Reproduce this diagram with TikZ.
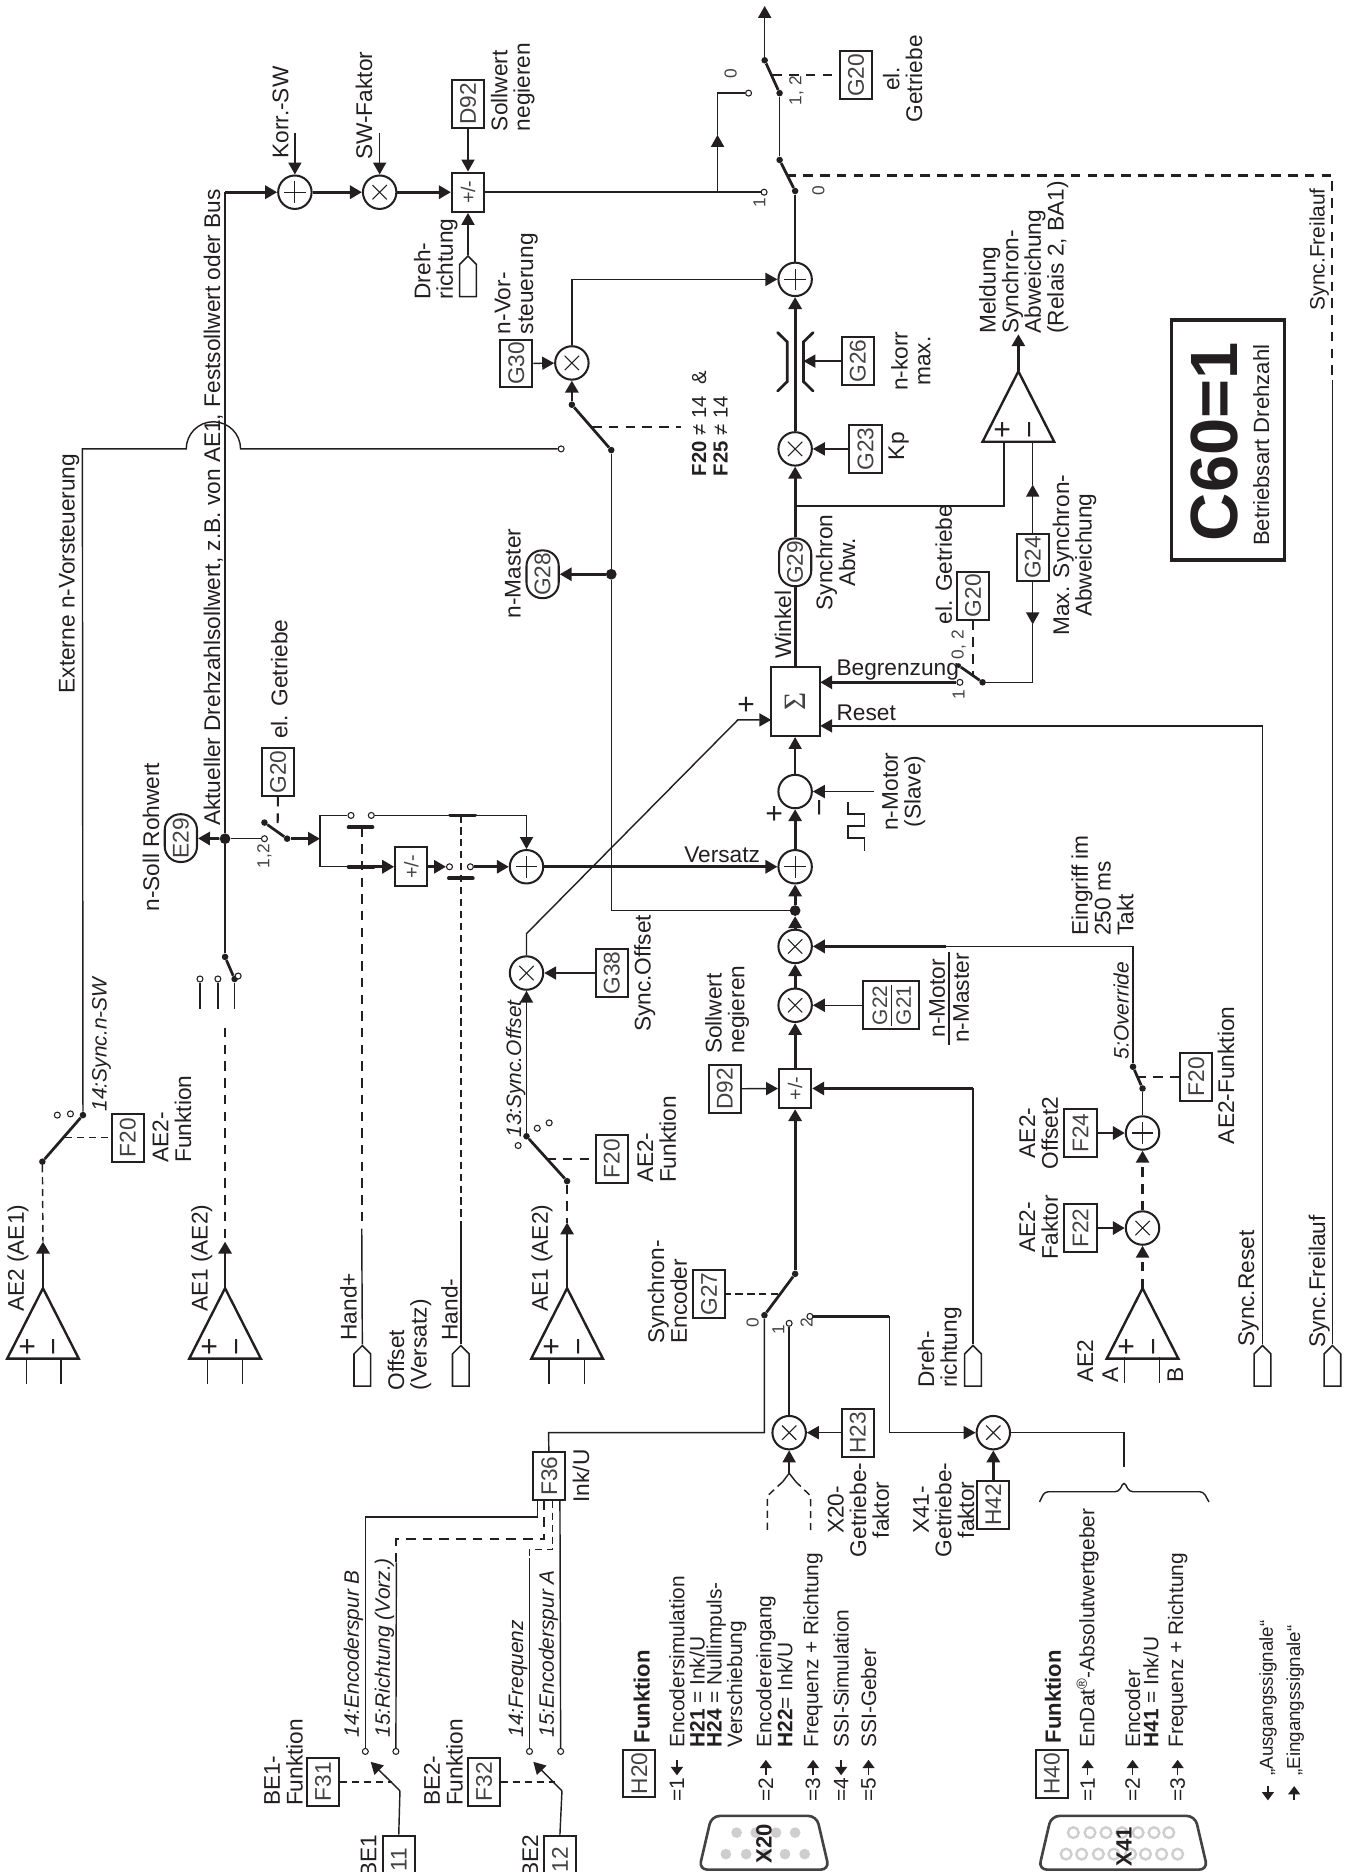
\documentclass[tikz,border=0pt]{standalone}
\usepackage{fontspec}
\setmainfont{Liberation Sans}
\newfontfamily\sigmafont{Liberation Serif}
\usetikzlibrary{arrows.meta,shapes.symbols}
\definecolor{ink}{HTML}{231F20}
\begin{document}
\begin{tikzpicture}[
    x=1pt, y=-1pt, color=ink,
    basefont/.style={font=\fontsize{19}{19}\selectfont},
    lbl/.style={basefont, rotate=90, anchor=west, align=left, inner sep=0pt},
    lblc/.style={basefont, rotate=90, anchor=center, align=center, inner sep=0pt},
    ilbl/.style={lbl, font=\fontsize{17.5}{18}\selectfont\itshape},
    rowlbl/.style={lbl, font=\fontsize{17.5}{18}\selectfont},
    hlbl/.style={basefont, anchor=west, inner sep=0pt},
    signlbl/.style={rotate=90, inner sep=0pt, font=\fontsize{25}{25}\selectfont},
    numlbl/.style={rotate=90, inner sep=0pt, font=\fontsize{14.5}{15}\selectfont, text=ink!85},
    parbox/.style={basefont, draw, rotate=90, line width=1.7pt, inner sep=0pt,
                   minimum width=40pt, minimum height=27pt, text=ink!85},
    ovalbox/.style={parbox, rounded corners=13pt},
    pmbox/.style={parbox, minimum width=33pt, font=\fontsize{16.5}{16}\selectfont},
    junc/.style={circle, draw, line width=1.7pt, minimum size=28pt, inner sep=0pt},
    sumnode/.style={junc, path picture={
        \draw[line width=.9pt] ([xshift=-9pt]path picture bounding box.center) -- ([xshift=9pt]path picture bounding box.center);
        \draw[line width=.9pt] ([yshift=-9pt]path picture bounding box.center) -- ([yshift=9pt]path picture bounding box.center);}},
    mulnode/.style={junc, path picture={
        \draw[line width=.9pt] ([shift={(-6pt,-6pt)}]path picture bounding box.center) -- ([shift={(6pt,6pt)}]path picture bounding box.center);
        \draw[line width=.9pt] ([shift={(-6pt,6pt)}]path picture bounding box.center) -- ([shift={(6pt,-6pt)}]path picture bounding box.center);}},
    contact/.style={circle, draw, fill=white, line width=.9pt, minimum size=5pt, inner sep=0pt},
    pivot/.style={circle, fill=ink, minimum size=5.5pt, inner sep=0pt},
    dot/.style={circle, fill=ink, minimum size=9pt, inner sep=0pt},
    plug/.style={signal, signal to=north, draw, line width=1.3pt, inner sep=0pt,
                 minimum width=14pt, minimum height=27pt},
    wire/.style={line width=1.2pt},
    bus/.style={line width=2.3pt},
    swline/.style={line width=2.3pt},
    arr/.style={-{Triangle[length=10pt,width=11pt]}},
    flow/.style={wire, arr},
    busflow/.style={bus, arr},
    ctrl/.style={line width=1.8pt, dash pattern=on 8pt off 6pt},
    ctrlthin/.style={line width=1.2pt, dash pattern=on 6pt off 4pt},
    mini/.style={line width=1.4pt, -{Triangle[length=7pt,width=10pt]}},
    opline/.style={line width=2pt, line join=miter},
    pinfill/.style={fill=ink!22},
    dsub/.style={line width=2.2pt, draw=ink!85, rounded corners=7pt},
    opamp/.pic={
        \draw[opline] (0,0) -- (-30,59) -- (30,59) -- cycle;
        \node[signlbl] (-plus) at (-12,49) {+};
        \node[signlbl] (-minus) at (13,49) {−};
    }
]
    \useasboundingbox (0,0) rectangle (1133,1568);

    % setpoint path, top
    \coordinate (busTop) at (188.5,161);
    \coordinate (inKorr) at (247,111);
    \coordinate (inFak)  at (318,111);
    \node[sumnode] (sumKorr) at (247,161) {};
    \node[mulnode] (mulFak)  at (318,161) {};
    \node[pmbox]   (pmTop)   at (392,161) {+/-};
    \node[parbox]  (D92a)    at (392,87)  {D92};
    \node[plug]    (plugDrA) at (392,235) {};
    \node[lbl] (tKorr)  at (235,133) {Korr.-SW};
    \node[lbl] (tFak)   at (305,134) {SW-Faktor};
    \node[lbl] (tSollA) at (429.5,110) {Sollwert\\negieren};
    \node[lbl] (tDrA)   at (365,251) {Dreh-\\richtung};

    \draw[busflow] (busTop) -- (sumKorr);
    \draw[busflow] (sumKorr) -- (mulFak);
    \draw[busflow] (mulFak) -- (pmTop);
    \draw[flow] (inKorr) -- (sumKorr);
    \draw[flow] (inFak) -- (mulFak);
    \draw[flow] (D92a) -- (pmTop);
    \draw[flow] (plugDrA.north) -- (pmTop);

    % output switches
    \coordinate (outTip) at (640.5,5);
    \coordinate (brLow)  at (601,161);
    \coordinate (brArr)  at (601,113);
    \coordinate (brUp)   at (601,78);
    \node[pivot] (swA) at (640.5,50.5) {};
    \node[pivot] (swB) at (653,78) {};
    \node[pivot] (swC) at (653,134) {};
    \node[pivot] (swD) at (666,160) {};
    \node[contact] (ctZero) at (627,78) {};
    \node[contact] (ctOne)  at (640,161) {};
    \node[parbox] (G20a) at (717,63) {G20};
    \coordinate (swAmid) at (647,63);
    \coordinate (swCmid) at (659,147);
    \coordinate (frCorner) at (1116,147);
    \coordinate (frEnd) at (1116,318);
    \node[numlbl] (nZero) at (612,62) {0};
    \node[numlbl] (nOneTwo) at (667,76) {1, 2};
    \node[numlbl] (nZeroB) at (685.5,160) {0};
    \node[numlbl] (nOneB) at (636,170) {1};
    \node[lblc] (tElA) at (756,66) {el.\\Getriebe};

    \draw[flow] (swA) -- (outTip);
    \draw[swline] (swA) -- (swB);
    \draw[wire] (swB) -- (swC);
    \draw[swline] (swC) -- (swD);
    \draw[wire] (pmTop) -- (ctOne);
    \draw[flow] (brLow) -- (brArr);
    \draw[wire] (brArr) -- (brUp) -- (ctZero);
    \draw[ctrl] (swAmid) -- (G20a);
    \draw[ctrl] (swCmid) -- (frCorner) -- (frEnd);

    % n-Vorsteuerung branch
    \node[sumnode] (sumFF) at (666,234) {};
    \node[mulnode] (mulFF) at (479,304) {};
    \node[parbox]  (G30)   at (432.5,304.5) {G30};
    \node[pivot]   (swFFa) at (479,339) {};
    \node[pivot]   (swFFb) at (512,377) {};
    \node[contact] (ctFF)  at (470,376) {};
    \coordinate (swFFmid) at (496,358);
    \coordinate (swFFend) at (570,358);
    \coordinate (brgR) at (201.5,376);
    \coordinate (brgL) at (156,376);
    \coordinate (ffCorner) at (69,376);
    \node[pivot] (swExtB) at (69.5,934) {};
    \node[pivot] (swExtA) at (35.5,973) {};
    \node[lbl] (tFF) at (432.5,280) {n-Vor-\\steuerung};
    \node[lbl] (tExt) at (58,581) {Externe n-Vorsteuerung};
    \node[lbl, font=\fontsize{17}{18}\selectfont] (tCond) at (594.5,399) {\textbf{F20} ≠ 14\ \ \&\\\textbf{F25} ≠ 14};

    \draw[flow] (mulFF) |- (sumFF);
    \draw[flow] (G30) -- (mulFF);
    \draw[busflow] (swFFa) -- (mulFF);
    \draw[swline] (swFFa) -- (swFFb);
    \draw[ctrl] (swFFmid) -- (swFFend);
    \draw[wire] (ctFF) -- (brgR) arc[start angle=0, end angle=-180, radius=22.75] -- (ffCorner) -- (swExtB);

    % speed line to the right hand column
    \node[ovalbox] (G29)    at (666,471) {G29};
    \node[mulnode] (mulKp)  at (666,376) {};
    \node[parbox]  (G23)    at (725,376) {G23};
    \node[parbox]  (G26)    at (718.5,302.5) {G26};
    \coordinate (limTip) at (673,302.5);
    \coordinate (brMsg)  at (666,424);
    \coordinate (msgCorner) at (841,424);
    \coordinate (msgPlus) at (841,369);
    \node[lbl] (tKp) at (752.8,385.5) {Kp};
    \node[lblc] (tKorrMax) at (763,302.5) {n-korr\\max.};
    \node[lblc] (tAbw) at (700,471) {Synchron\\Abw.};
    \node[lbl] (tWink) at (655.8,551.8) {Winkel};
    \draw[swline, line cap=round] (651.4,278.6) -- (659.4,286.4) -- (659.4,319.6) -- (651.4,327.5);
    \draw[swline, line cap=round] (681,278.6) -- (673,286.4) -- (673,319.6) -- (681,327.5);

    \draw[wire] (swD) -- (sumFF);
    \draw[busflow] (mulKp) -- (sumFF);
    \draw[flow] (G23) -- (mulKp);
    \draw[flow] (G26) -- (limTip);
    \draw[wire] (brMsg) -- (msgCorner) -- (msgPlus);
    \draw[busflow] (G29) -- (mulKp);

    % message comparator
    \pic (oaMsg) at (853,311) {opamp};
    \coordinate (oaMsgTop) at (853,311);
    \coordinate (msgOut) at (853,280);
    \coordinate (msgMinus) at (865,369);
    \coordinate (arrUp) at (865,406);
    \coordinate (arrDn) at (865,523);
    \coordinate (limCorner) at (865,571.5);
    \node[parbox] (G24) at (865,467) {G24};
    \node[lbl] (tMeld) at (857.5,279.6) {Meldung\\Synchron-\\Abweichung\\(Relais 2, BA1)};
    \node[lblc] (tMaxAbw) at (900,465) {Max. Synchron-\\Abweichung};

    \draw[busflow] (oaMsgTop) -- (msgOut);
    \draw[flow] (G24) -- (arrUp);
    \draw[wire] (arrUp) -- (msgMinus);
    \draw[flow] (G24) -- (arrDn);
    \draw[wire] (arrDn) -- (limCorner);

    % integrator
    \node[parbox, minimum width=58pt, minimum height=41pt, font=\sigmafont\fontsize{26}{26}\selectfont] (intg) at (666,587.5) {Σ};
    \node[pivot]   (swLimA) at (823,571.5) {};
    \node[pivot, minimum size=4pt] (swLimB) at (803,557.5) {};
    \node[contact] (ctLim)  at (804,571.5) {};
    \node[parbox]  (G20b)   at (815,499) {G20};
    \coordinate (swLimMid) at (815,565);
    \coordinate (limIn)    at (687,571.5);
    \coordinate (resetIn)  at (687,608);
    \coordinate (resetCorner) at (1057.5,608);
    \node[plug] (plugRes) at (1057.5,1147.5) {};
    \node[lbl] (tElB)  at (790.5,523) {el. Getriebe};
    \node[numlbl] (nZeroTwo) at (803,540) {0, 2};
    \node[numlbl] (nOneC) at (803,582) {1};
    \node[hlbl] (tBegr) at (700.5,561.5) {Begrenzung};
    \node[hlbl] (tRes)  at (700.5,597) {Reset};
    \node[signlbl, rotate=-90] (tPlusI) at (625,591) {+};

    \draw[bus] (intg) -- (G29);
    \draw[swline] (swLimA) -- (swLimB);
    \draw[wire] (limCorner) -- (swLimA);
    \draw[busflow] (ctLim) -- (limIn);
    \draw[ctrl] (G20b) -- (swLimMid);
    \draw[wire] (plugRes.north) -- (resetCorner);
    \draw[flow] (resetCorner) -- (resetIn);

    % motor feedback and Versatz
    \node[junc]    (cmpM)   at (666,663) {};
    \node[sumnode] (sumV)   at (666,726) {};
    \node[dot]     (dotM)   at (666,762.7) {};
    \node[dot]     (dotN)   at (512,481) {};
    \coordinate (cornerM) at (512,762.7);
    \coordinate (inMot)   at (732,663);
    \node[hlbl] (tVers) at (573,716) {Versatz};
    \node[signlbl] (tPlusC) at (650,681.5) {+};
    \node[signlbl] (tMinC) at (690,677) {−};
    \node[lblc] (tMot) at (757,663) {n-Motor\\(Slave)};
    \draw[wire] (724,712.4) -- (724,702) -- (710.4,702) -- (710.4,692) -- (724,692) -- (724,681.7) -- (710.4,681.7) -- (710.4,671.4);
    \node[ovalbox] (G28) at (454.5,481) {G28};
    \node[lbl] (tMast) at (429.7,518) {n-Master};

    \draw[flow] (cmpM) -- (intg);
    \draw[busflow] (sumV) -- (cmpM);
    \draw[flow] (inMot) -- (cmpM);
    \draw[busflow] (dotN) -- (G28);
    \draw[wire] (swFFb) -- (dotN) -- (cornerM) -- (dotM);
    \draw[busflow] (dotM) -- (sumV);

    % el. Getriebe bypass and hand inputs
    \node[dot] (jnE) at (188.5,702.5) {};
    \node[ovalbox] (E29) at (151.5,702) {E29};
    \node[parbox] (G20c) at (233,646.5) {G20};
    \node[contact] (ctGa) at (221.5,702.5) {};
    \node[pivot] (swGa) at (221.5,689) {};
    \node[pivot] (swGb) at (240.5,702.5) {};
    \coordinate (swGmid) at (232.5,695);
    \coordinate (splitM) at (268,702.5);
    \coordinate (splitT) at (268,683);
    \coordinate (splitB) at (268,726);
    \node[contact] (ctTa) at (294,683) {};
    \node[contact] (ctTb) at (311,683) {};
    \node[contact] (ctBa) at (376.5,726) {};
    \node[contact] (ctBb) at (394,726) {};
    \node[pmbox] (pmMid) at (344.5,726) {+/-};
    \node[sumnode] (sumH) at (441,726) {};
    \coordinate (cornerH) at (441,683);
    \coordinate (barTa) at (292,693);
    \coordinate (barTb) at (312,693);
    \coordinate (barBa) at (292,726);
    \coordinate (barBb) at (313,726);
    \coordinate (barUa) at (377,683);
    \coordinate (barUb) at (398,683);
    \coordinate (barLa) at (376,735.7);
    \coordinate (barLb) at (396,735.7);
    \coordinate (hpTop) at (303,693);
    \coordinate (hpEnd) at (303,1029);
    \coordinate (hmTop) at (386,683);
    \coordinate (hmEnd) at (386,1029);
    \node[plug] (plugHp) at (303.5,1147.5) {};
    \node[plug] (plugHm) at (386,1147.5) {};
    \node[lbl] (tSoll) at (126.4,763.7) {n-Soll Rohwert};
    \node[lbl] (tAkt)  at (178.7,692) {Aktueller Drehzahlsollwert, z.B. von AE1, Festsollwert oder Bus};
    \node[lbl] (tElC)  at (234,619) {el. Getriebe};
    \node[numlbl] (nOneTwoB) at (221.5,717) {1,2};
    \node[lbl] (tHp) at (292,1123) {Hand+};
    \node[lbl] (tOff) at (343,1164.5) {Offset\\(Versatz)};
    \node[lbl] (tHm) at (376.6,1123) {Hand-};

    \draw[wire] (busTop) -- (jnE);
    \draw[busflow] (jnE) -- (E29);
    \draw[wire] (jnE) -- (ctGa);
    \draw[swline] (swGa) -- (swGb);
    \draw[ctrl] (G20c) -- (swGmid);
    \draw[busflow] (swGb) -- (splitM);
    \draw[wire] (splitT) -- (splitB);
    \draw[wire] (splitT) -- (ctTa);
    \draw[wire] (ctTb) -- (cornerH);
    \draw[flow] (cornerH) -- (sumH);
    \draw[wire] (splitB) -- (barBa);
    \draw[busflow] (barBa) -- (pmMid);
    \draw[busflow] (pmMid) -- (ctBa);
    \draw[busflow] (ctBb) -- (sumH);
    \draw[busflow] (sumH) -- (sumV);
    \draw[line cap=round, line width=3.2pt] (barTa) -- (barTb);
    \draw[line cap=round, line width=3.2pt] (barBa) -- (barBb);
    \draw[line cap=round, line width=3.2pt] (barUa) -- (barUb);
    \draw[line cap=round, line width=3.2pt] (barLa) -- (barLb);
    \draw[ctrl] (hpTop) -- (hpEnd);
    \draw[wire] (hpEnd) -- (plugHp.north);
    \draw[ctrlthin] (hmTop) -- (hmEnd);
    \draw[wire] (hmEnd) -- (plugHm.north);

    % three way switch below AE1
    \node[pivot] (swTa) at (188.5,801.5) {};
    \node[pivot] (swTb) at (196.5,820) {};
    \node[contact] (ctTx) at (167.5,820) {};
    \node[contact] (ctTy) at (182.5,820) {};
    \node[contact] (ctTz) at (199.5,817.5) {};
    \coordinate (lgTx) at (167.5,845);
    \coordinate (lgTy) at (182.5,845);
    \coordinate (lgTz) at (196.5,845);
    \coordinate (ae1Dash) at (188.5,861);
    \draw[wire] (jnE) -- (swTa);
    \draw[swline] (swTa) -- (swTb);
    \draw[wire] (ctTx) -- (lgTx);
    \draw[wire] (ctTy) -- (lgTy);
    \draw[wire] (swTb) -- (lgTz);

    % analog inputs
    \pic (oaA) at (36,1079) {opamp};
    \pic (oaB) at (188.5,1079) {opamp};
    \pic (oaC) at (475,1079) {opamp};
    \coordinate (oaAtop) at (36,1079);
    \coordinate (oaBtop) at (188.5,1079);
    \coordinate (oaCtop) at (475,1079);
    \coordinate (tipA) at (36,1040);
    \coordinate (tipB) at (188.5,1040);
    \coordinate (tipC) at (475,1024);
    \node[parbox] (F20a) at (107,953) {F20};
    \node[parbox] (F20b) at (512.5,970.5) {F20};
    \node[contact] (ctXa) at (48,934) {};
    \node[contact] (ctXb) at (59,933) {};
    \coordinate (swExtMid) at (54.5,953);
    \node[lbl] (tAeA) at (15,1099) {AE2 (AE1)};
    \node[lbl] (tAeB) at (169,1099) {AE1 (AE2)};
    \node[lbl] (tAeC) at (454,1099) {AE1 (AE2)};
    \node[ilbl] (tSyncN) at (85,931) {14:Sync.n-SW};
    \node[lbl] (tFunA) at (144,974) {AE2-\\Funktion};
    \node[lbl] (tFunB) at (550,991) {AE2-\\Funktion};

    \draw[swline] (swExtA) -- (swExtB);
    \draw[ctrlthin] (swExtMid) -- (F20a);
    \draw[ctrlthin] (swExtA) -- (tipA);
    \draw[busflow] (oaAtop) -- (tipA);
    \draw[ctrl] (ae1Dash) -- (tipB);
    \draw[busflow] (oaBtop) -- (tipB);
    \draw[busflow] (oaCtop) -- (tipC);
    \draw[wire] (22,1138) -- (22,1159);
    \draw[wire] (51,1138) -- (51,1159);
    \draw[wire] (174,1138) -- (174,1159);
    \draw[wire] (203,1138) -- (203,1159);
    \draw[wire] (460,1138) -- (460,1159);
    \draw[wire] (489.5,1138) -- (489.5,1159);

    % sync offset
    \node[mulnode] (mulOff) at (441,815) {};
    \node[parbox]  (G38)    at (512.5,815) {G38};
    \node[pivot]   (swOa)   at (441,951.7) {};
    \node[pivot]   (swOb)   at (475,989.3) {};
    \node[contact] (ctOa)   at (450,945) {};
    \node[contact] (ctOb)   at (460,940.5) {};
    \node[contact] (ctOc)   at (434,959.5) {};
    \coordinate (swOmid) at (457.5,970.5);
    \coordinate (offBend) at (441,782);
    \coordinate (offDiag) at (618,603);
    \coordinate (offIn)   at (646,603);
    \node[ilbl] (tSyncO) at (432,953) {13:Sync.Offset};
    \node[lbl]  (tOff2)  at (540,864.5) {Sync.Offset};

    \draw[flow] (swOa) -- (mulOff);
    \draw[swline] (swOa) -- (swOb);
    \draw[ctrl] (swOmid) -- (F20b);
    \draw[ctrl] (swOb) -- (tipC);
    \draw[flow] (G38) -- (mulOff);
    \draw[flow] (mulOff) -- (offBend) -- (offDiag) -- (offIn);

    % ratio, override
    \node[mulnode] (mulOv)  at (666,792.7) {};
    \node[mulnode] (mulRat) at (666,842) {};
    \node[pmbox]   (pmLow)  at (666,911.7) {+/-};
    \node[parbox]  (D92b)   at (607,912) {D92};
    \node[parbox, minimum height=47pt] (ratio) at (746.5,842) {};
    \node[rowlbl, anchor=center, text=ink!85] (ratG) at (737,842) {G22};
    \node[rowlbl, anchor=center, text=ink!85] (ratH) at (757,842) {G21};
    \draw[wire] (746.5,825) -- (746.5,859);
    \node[lblc] (tFrU) at (785,836) {n-Motor};
    \node[lblc] (tFrL) at (805,836) {n-Master};
    \draw[wire] (795,797) -- (795,875);
    \node[lbl] (tSollB) at (609,883) {Sollwert\\negieren};
    \node[parbox] (F20c) at (1002,902) {F20};
    \node[parbox] (F24) at (905,949) {F24};
    \node[parbox] (F22) at (905,1028.6) {F22};
    \node[sumnode] (sumOv) at (957,949) {};
    \node[mulnode] (mulAE) at (957,1028.6) {};
    \node[pivot] (swVa) at (949,893.5) {};
    \node[pivot] (swVb) at (957,911.7) {};
    \coordinate (swVmid) at (952,902);
    \coordinate (ovCorner) at (949,792.7);
    \coordinate (ovBus) at (792,792.7);
    \pic (oaE) at (957,1079) {opamp};
    \coordinate (oaEtop) at (957,1079);
    \node[lbl] (tEing) at (923.5,784) {Eingriff im\\250 ms\\Takt};
    \node[ilbl] (tOv) at (939,887.5) {5:Override};
    \node[lbl] (tFunC) at (1027,958.5) {AE2-Funktion};
    \node[lblc] (tOff3) at (870,949) {AE2-\\Offset2};
    \node[lblc] (tFak3) at (870,1028) {AE2-\\Faktor};
    \node[lbl] (tAeE) at (909,1158) {AE2};
    \node[lblc] (tInA) at (930,1151.5) {A};
    \node[lblc] (tInB) at (984.5,1151.5) {B};

    \draw[busflow] (mulOv) -- (dotM);
    \draw[busflow] (mulRat) -- (mulOv);
    \draw[busflow] (pmLow) -- (mulRat);
    \draw[flow] (D92b) -- (pmLow);
    \draw[flow] (ratio) -- (mulRat);
    \draw[wire] (swVa) -- (ovCorner) -- (ovBus);
    \draw[busflow] (ovBus) -- (mulOv);
    \draw[swline] (swVa) -- (swVb);
    \draw[wire] (swVb) -- (sumOv);
    \draw[ctrl] (swVmid) -- (F20c);
    \draw[busflow] (F24) -- (sumOv);
    \draw[busflow] (F22) -- (mulAE);
    \draw[ctrl, arr] (mulAE) -- (sumOv);
    \draw[ctrl, arr] (oaEtop) -- (mulAE);
    \draw[wire] (942,1137) -- (942,1158);
    \draw[wire] (971,1137) -- (971,1158);

    % Dreh-richtung low, sync plugs
    \coordinate (drCorner) at (815,911.7);
    \node[plug] (plugDrB) at (815,1147.5) {};
    \node[plug] (plugFr)  at (1116,1147.5) {};
    \node[lbl] (tDrB) at (787,1162.7) {Dreh-\\richtung};
    \node[lbl] (tReset) at (1045.7,1128) {Sync.Reset};
    \node[lbl] (tFrei) at (1105,1129) {Sync.Freilauf};
    \node[rowlbl] (tFreiT) at (1105,260) {Sync.Freilauf};
    \draw[wire] (plugDrB.north) -- (drCorner);
    \draw[busflow] (drCorner) -- (pmLow);
    \draw[wire] (plugFr.north) -- (frEnd);

    % encoder selection
    \node[pivot] (swEa) at (666,1067) {};
    \node[pivot] (swEb) at (640.3,1101.6) {};
    \node[contact] (ctE1) at (661,1108.4) {};
    \node[contact] (ctE2) at (678.4,1102.6) {};
    \node[parbox] (G27) at (594,1084) {G27};
    \node[parbox] (F36) at (460,1236.5) {F36};
    \node[mulnode] (mulX20) at (661,1200) {};
    \node[mulnode] (mulX41) at (832,1200) {};
    \node[parbox] (H23) at (718.5,1200) {H23};
    \node[parbox] (H42) at (832,1260.6) {H42};
    \coordinate (swEmid) at (652,1084);
    \coordinate (e0Corner) at (640.3,1200);
    \coordinate (f36Top) at (459.5,1200);
    \coordinate (e2Top) at (745,1102.6);
    \coordinate (e2Low) at (745,1200);
    \coordinate (x41Corner) at (941.5,1200);
    \coordinate (x41End) at (941.5,1228.6);
    \coordinate (fork) at (661,1234);
    \coordinate (forkL) at (655.7,1241);
    \coordinate (forkR) at (666.5,1241);
    \coordinate (x20L) at (642.8,1253);
    \coordinate (x20Le) at (642.8,1282);
    \coordinate (x20R) at (679,1253);
    \coordinate (x20Re) at (679,1282);
    \node[numlbl] (nE0) at (630.5,1108) {0};
    \node[numlbl] (nE1) at (652,1113.5) {1};
    \node[numlbl] (nE2) at (675.5,1108) {2};
    \node[lbl] (tSynE) at (559,1125.6) {Synchron-\\Encoder};
    \node[lbl] (tInk) at (486.7,1258.6) {Ink/U};
    \node[lblc] (tX20) at (719,1264.7) {X20-\\Getriebe-\\faktor};
    \node[lblc] (tX41) at (790.5,1264.7) {X41-\\Getriebe-\\faktor};
    \draw[wire, rounded corners=3pt] (870.7,1258) -- (875,1249.5) -- (937,1249.5) -- (941.5,1241) -- (946,1249.5) -- (1008,1249.5) -- (1012.6,1258);

    \draw[busflow] (swEa) -- (pmLow);
    \draw[swline] (swEa) -- (swEb);
    \draw[ctrlthin] (swEmid) -- (G27);
    \draw[wire] (swEb) -- (e0Corner) -- (f36Top) -- (F36);
    \draw[wire] (ctE1) -- (mulX20);
    \draw[flow] (H23) -- (mulX20);
    \draw[flow] (fork) -- (mulX20);
    \draw[wire] (forkL) -- (fork) -- (forkR);
    \draw[ctrlthin] (forkL) -- (x20L) -- (x20Le);
    \draw[ctrlthin] (forkR) -- (x20R) -- (x20Re);
    \draw[bus] (ctE2) -- (e2Top);
    \draw[wire] (e2Top) -- (e2Low);
    \draw[flow] (e2Low) -- (mulX41);
    \draw[busflow] (H42) -- (mulX41);
    \draw[wire] (mulX41) -- (x41Corner) -- (x41End);

    % digital inputs
    \coordinate (fA) at (450.4,1257);
    \coordinate (fB) at (455.8,1257);
    \coordinate (fC) at (463,1257);
    \coordinate (fD) at (469,1257);
    \coordinate (fAb) at (450.4,1270.8);
    \coordinate (fAc) at (306,1270.8);
    \coordinate (fBb) at (455.8,1289.3);
    \coordinate (fBc) at (332,1289.3);
    \coordinate (fBd) at (332,1308.6);
    \coordinate (fCb) at (463,1297.8);
    \coordinate (fCc) at (443.5,1297.8);
    \coordinate (fCd) at (443.5,1305);
    \node[contact] (ctB1a) at (306,1467) {};
    \node[contact] (ctB1b) at (331.6,1467) {};
    \node[contact] (ctB2a) at (443.5,1467) {};
    \node[contact] (ctB2b) at (469.6,1467) {};
    \node[parbox] (F31) at (270.5,1492.5) {F31};
    \node[parbox] (F32) at (405.4,1492.5) {F32};
    \node[parbox] (T11) at (334,1557.5) {11};
    \node[parbox] (T12) at (469,1557.5) {12};
    \coordinate (be1Knee) at (335,1500);
    \coordinate (be1Tip)  at (310.5,1475.7);
    \coordinate (be1Mid)  at (328.7,1492.5);
    \coordinate (be2Knee) at (470.7,1500);
    \coordinate (be2Tip)  at (446.7,1475.7);
    \coordinate (be2Mid)  at (465,1492.5);
    \node[ilbl] (tEnB) at (296,1455.4) {14:Encoderspur B};
    \node[ilbl] (tRi)  at (322,1455.4) {15:Richtung (Vorz.)};
    \node[ilbl] (tFr)  at (434,1455.4) {14:Frequenz};
    \node[ilbl] (tEnA) at (459.4,1455.4) {15:Encoderspur A};
    \node[lbl] (tBe1f) at (237.5,1512.8) {BE1-\\Funktion};
    \node[lbl] (tBe2f) at (371.5,1512.8) {BE2-\\Funktion};
    \node[lbl] (tBe1) at (308.7,1573) {BE1};
    \node[lbl] (tBe2) at (444,1573) {BE2};

    \draw[wire] (fA) -- (fAb) -- (fAc) -- (ctB1a);
    \draw[ctrl] (fB) -- (fBb) -- (fBc) -- (fBd);
    \draw[wire] (fBd) -- (ctB1b);
    \draw[ctrlthin] (fC) -- (fCb) -- (fCc) -- (fCd);
    \draw[wire] (fCd) -- (ctB2a);
    \draw[wire] (fD) -- (ctB2b);
    \draw[wire] (T11.east) -- (be1Knee);
    \draw[flow] (be1Knee) -- (be1Tip);
    \draw[ctrlthin] (F31) -- (be1Mid);
    \draw[wire] (T12.east) -- (be2Knee);
    \draw[flow] (be2Knee) -- (be2Tip);
    \draw[ctrlthin] (F32) -- (be2Mid);

    % X20 function table
    \node[parbox] (H20) at (535.5,1485.5) {H20};
    \node[lbl, font=\fontsize{18.5}{18}\selectfont\bfseries] (tFuA) at (537.5,1460.5) {Funktion};
    \node[rowlbl] (r1a) at (567,1509) {=1};
    \node[rowlbl] (r1b) at (567,1464) {Encodersimulation};
    \node[rowlbl] (r1c) at (584,1464) {\textbf{H21} = Ink/U};
    \node[rowlbl] (r1d) at (600,1464) {\textbf{H24} = Nullimpuls-};
    \node[rowlbl] (r1e) at (617,1464) {Verschiebung};
    \node[rowlbl] (r2a) at (641.5,1509) {=2};
    \node[rowlbl] (r2b) at (641.5,1464) {Encodereingang};
    \node[rowlbl] (r2c) at (657.5,1464) {\textbf{H22}= Ink/U};
    \node[rowlbl] (r3a) at (681,1509) {=3};
    \node[rowlbl] (r3b) at (681,1464) {Frequenz + Richtung};
    \node[rowlbl] (r4a) at (704.5,1509) {=4};
    \node[rowlbl] (r4b) at (704.5,1464) {SSI-Simulation};
    \node[rowlbl] (r5a) at (727.5,1509) {=5};
    \node[rowlbl] (r5b) at (727.5,1464) {SSI-Geber};
    \draw[mini] (567,1474) -- (567,1487);
    \draw[mini] (641.5,1487) -- (641.5,1474);
    \draw[mini] (681,1487) -- (681,1474);
    \draw[mini] (704.5,1474) -- (704.5,1487);
    \draw[mini] (727.5,1487) -- (727.5,1474);

    % X41 function table
    \node[parbox] (H40) at (881,1486) {H40};
    \node[lbl, font=\fontsize{18.5}{18}\selectfont\bfseries] (tFuB) at (882,1460.5) {Funktion};
    \node[rowlbl] (s1a) at (911,1509) {=1};
    \node[rowlbl] (s1b) at (911,1464) {EnDat\textsuperscript{®}-Absolutwertgeber};
    \node[rowlbl] (s2a) at (948.7,1509) {=2};
    \node[rowlbl] (s2b) at (948.7,1464) {Encoder};
    \node[rowlbl] (s2c) at (964,1464) {\textbf{H41} = Ink/U};
    \node[rowlbl] (s3a) at (986.4,1509) {=3};
    \node[rowlbl] (s3b) at (986.4,1464) {Frequenz + Richtung};
    \draw[mini] (911,1487) -- (911,1474);
    \draw[mini] (948.7,1487) -- (948.7,1474);
    \draw[mini] (986.4,1487) -- (986.4,1474);

    % signal legend
    \node[lbl, font=\fontsize{15.7}{16}\selectfont] (tAus) at (1062,1487.5) {„Ausgangssignale“};
    \node[lbl, font=\fontsize{15.7}{16}\selectfont] (tEin) at (1085,1487.5) {„Eingangssignale“};
    \draw[mini] (1062,1496) -- (1062,1508);
    \draw[mini] (1084,1508) -- (1084,1496);

    % connectors
    \fill[pinfill] (617,1535) circle (4.5pt) (633,1535) circle (4.5pt) (650,1535) circle (4.5pt) (666,1535) circle (4.5pt)
        (608,1553) circle (4.5pt) (625,1553) circle (4.5pt) (641,1553) circle (4.5pt) (657.5,1553) circle (4.5pt) (674,1553) circle (4.5pt);
    \draw[dsub] (596,1521) -- (684,1521) -- (694.5,1566) -- (585.5,1566) -- cycle;
    \node[rotate=90, inner sep=0pt, font=\fontsize{18.5}{18}\selectfont\bfseries] (tXa) at (640,1544) {X20};
    \draw[line width=2pt, draw=ink!22] (899,1535) circle (4.5pt) (913,1535) circle (4.5pt) (926.4,1535) circle (4.5pt) (939.7,1535) circle (4.5pt) (953.3,1535) circle (4.5pt) (966.6,1535) circle (4.5pt) (979,1535) circle (4.5pt)
        (893,1553) circle (4.5pt) (906,1553) circle (4.5pt) (920,1553) circle (4.5pt) (933,1553) circle (4.5pt) (947,1553) circle (4.5pt) (959.5,1553) circle (4.5pt) (973,1553) circle (4.5pt) (986.4,1553) circle (4.5pt);
    \draw[dsub] (880.5,1521) -- (1001,1521) -- (1011.5,1566) -- (870,1566) -- cycle;
    \node[rotate=90, inner sep=0pt, font=\fontsize{18.5}{18}\selectfont\bfseries] (tXb) at (941.5,1547) {X41};

    % mode box
    \node[draw, line width=2.8pt, minimum width=201pt, minimum height=95pt, rotate=90, inner sep=0pt] (modeBox) at (1028.5,368.5) {};
    \node[rotate=90, inner sep=0pt, font=\fontsize{56}{56}\selectfont\bfseries] (tMode) at (1017,370) {C60=1};
    \node[rotate=90, inner sep=0pt, font=\fontsize{18.5}{18}\selectfont] (tModeB) at (1056.5,373) {Betriebsart Drehzahl};
\end{tikzpicture}
\end{document}
